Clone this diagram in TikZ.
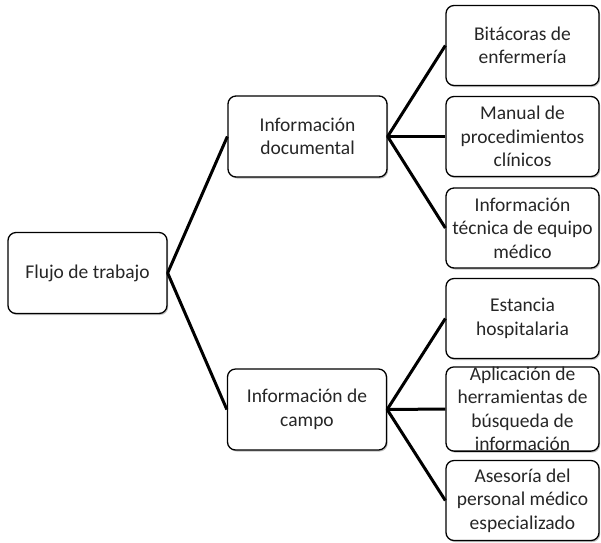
\documentclass[tikz,border=0pt]{standalone}
\usepackage{fontspec}
\setmainfont{Carlito}
\usetikzlibrary{shadows}
\begin{document}
\begin{tikzpicture}[x=1pt,y=-1pt,
  boxnode/.style={draw=black, line width=1.3pt, rounded corners=8pt, fill=white,
    align=center, inner sep=0pt, text=black!85,
    font=\fontsize{19.5}{23.5}\selectfont,
    drop shadow={shadow xshift=1.2pt, shadow yshift=-1.5pt, opacity=0.25, fill=black}},
  midbox/.style={boxnode, minimum width=159pt, minimum height=81pt},
  leafbox/.style={boxnode, minimum width=153pt, minimum height=80pt},
  link/.style={line width=3pt, line join=round}]
\useasboundingbox (0,0) rectangle (601,542);
\node[midbox] (flujo) at (87.5,273) {Flujo de trabajo};
\node[midbox] (doc) at (307.5,136.5) {Información\\documental};
\node[midbox] (campo) at (307,409.5) {Información de\\campo};
\node[leafbox] (r1) at (522.5,45.5) {Bitácoras de\\enfermería};
\node[leafbox] (r2) at (522.5,136.5) {Manual de\\procedimientos\\clínicos};
\node[leafbox] (r3) at (522.5,228) {Información\\técnica de equipo\\médico};
\node[leafbox] (r4) at (522.5,318.5) {Estancia\\hospitalaria};
\node[leafbox] (r5) at (522.5,409) {Aplicación de\\herramientas de\\búsqueda de\\información};
\node[leafbox] (r6) at (522.5,500.5) {Asesoría del\\personal médico\\especializado};
\draw[link] (doc.west) -- (flujo.east) -- (campo.west);
\draw[link] (r1.west) -- (doc.east) -- (r3.west);
\draw[link] (doc.east) -- (r2.west);
\draw[link] (r4.west) -- (campo.east) -- (r6.west);
\draw[link] (campo.east) -- (r5.west);
\end{tikzpicture}
\end{document}
